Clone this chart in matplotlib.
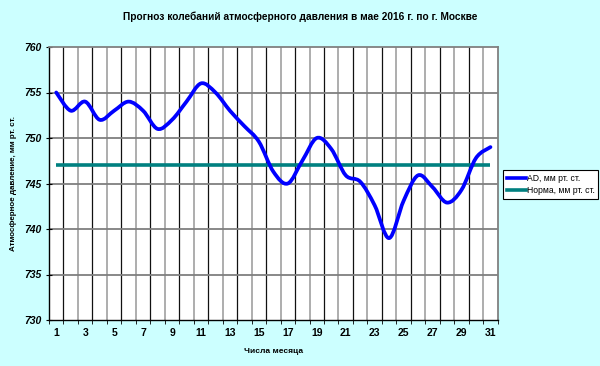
import matplotlib
matplotlib.use('Agg')
import matplotlib.pyplot as plt
from matplotlib.path import Path
from matplotlib.patches import PathPatch
from matplotlib.lines import Line2D
import numpy as np

plt.rcParams['font.family'] = ['Liberation Sans', 'DejaVu Sans']

days = list(range(1, 32))
ad = [755, 753, 754, 752, 753, 754, 753, 751, 752, 754, 756, 755, 753, 751.3, 749.6,
      746.3, 745, 747.5, 750, 748.8, 745.9, 745.2, 742.6, 739, 743.1, 745.9, 744.6,
      742.9, 744.3, 747.8, 749]
norm = [747] * 31
title = 'Прогноз колебаний атмосферного давления в мае 2016 г. по г. Москве'
ylabel = 'Атмосферное давление, мм рт. ст.'
xlabel = 'Числа месяца'
series_names = ['АD, мм рт. ст.', 'Норма, мм рт. ст.']
yticks = [730, 735, 740, 745, 750, 755, 760]
xtick_labels = list(range(1, 32, 2))

BG = '#CCFFFF'
BLUE = '#0000FF'
TEAL = '#008080'

fig = plt.figure(figsize=(6, 3.66), dpi=100, facecolor=BG)
ax = fig.add_axes([49/600, 1-320/366, (497.7-49)/600, (320-47)/366])
ax.set_facecolor('white')


def smooth_path(xs, ys):
    xs = np.asarray(xs, float)
    ys = np.asarray(ys, float)
    n = len(xs)
    verts = [(xs[0], ys[0])]
    codes = [Path.MOVETO]
    for i in range(n - 1):
        p0 = np.array([xs[max(i-1, 0)], ys[max(i-1, 0)]])
        p1 = np.array([xs[i], ys[i]])
        p2 = np.array([xs[i+1], ys[i+1]])
        p3 = np.array([xs[min(i+2, n-1)], ys[min(i+2, n-1)]])
        c1 = p1 + (p2 - p0) / 6.0
        c2 = p2 - (p3 - p1) / 6.0
        verts += [tuple(c1), tuple(c2), tuple(p2)]
        codes += [Path.CURVE4] * 3
    return Path(verts, codes)


# gridlines
for i, b in enumerate(np.arange(1.5, 31.5, 1.0)):
    if i % 2 == 0:
        ax.axvline(b, color='#111111', lw=0.9, zorder=1)
    else:
        ax.axvline(b, color='#ADADAD', lw=1.4, zorder=1)
for yv in yticks[1:-1]:
    ax.axhline(yv, color='#7F7F7F', lw=1.3, zorder=1)

ax.plot(days, norm, color=TEAL, lw=2.6, zorder=3, solid_capstyle='butt')
patch = PathPatch(smooth_path(days, ad), facecolor='none', edgecolor=BLUE, lw=2.7, zorder=4,
                  capstyle='round', joinstyle='round')
ax.add_patch(patch)

ax.set_xlim(0.5, 31.5)
ax.set_ylim(730, 760)
ax.set_yticks(yticks)
ax.set_yticklabels([str(v) for v in yticks], fontsize=7.5, fontweight='bold', fontstyle='italic')
ax.set_xticks(xtick_labels)
ax.set_xticklabels([str(v) for v in xtick_labels], fontsize=7.5, fontweight='bold')
ax.set_xticks(np.arange(0.5, 32, 1.0), minor=True)
ax.tick_params(axis='x', which='major', length=0, pad=6)
ax.tick_params(axis='x', which='minor', length=3, direction='out', color='black')
ax.tick_params(axis='y', which='major', length=5, direction='inout', pad=3, color='black')

for s in ['left', 'bottom']:
    ax.spines[s].set_color('black')
    ax.spines[s].set_linewidth(1.0)
for s in ['top', 'right']:
    ax.spines[s].set_color('#808080')
    ax.spines[s].set_linewidth(1.3)

ax.set_ylabel(ylabel, fontsize=5.8, fontweight='bold', labelpad=5)
ax.set_xlabel(xlabel, fontsize=6, fontweight='bold', labelpad=7)
fig.text(0.5, 1-17/366, title, ha='center', va='center', fontsize=7.3, fontweight='bold')

handles = [Line2D([], [], color=BLUE, lw=2.6), Line2D([], [], color=TEAL, lw=2.6)]
leg = ax.legend(handles, series_names, loc='upper left', bbox_to_anchor=(503/600, 1-170/366),
                bbox_transform=fig.transFigure, borderaxespad=0, fancybox=False,
                edgecolor='black', framealpha=1, fontsize=6.2, handlelength=2.2,
                handletextpad=0.1, borderpad=0.45, labelspacing=0.35)
leg.get_frame().set_linewidth(0.8)

fig.savefig('out.png', dpi=100, facecolor=BG)
